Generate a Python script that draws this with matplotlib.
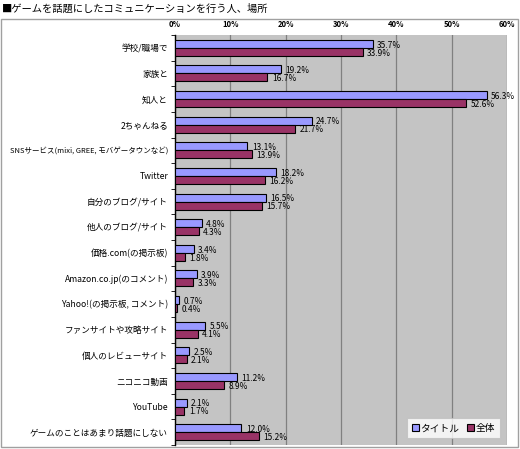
import matplotlib
matplotlib.use("Agg")
import matplotlib.pyplot as plt
import numpy as np
from matplotlib.patches import Rectangle

plt.rcParams['font.family'] = ['Noto Sans CJK JP', 'DejaVu Sans']

categories = [
    "学校/職場で", "家族と", "知人と", "2ちゃんねる",
    "SNSサービス(mixi, GREE, モバゲータウンなど)", "Twitter",
    "自分のブログ/サイト", "他人のブログ/サイト", "価格.com(の掲示板)",
    "Amazon.co.jp(のコメント)", "Yahoo!(の掲示板, コメント)",
    "ファンサイトや攻略サイト", "個人のレビューサイト", "ニコニコ動画",
    "YouTube", "ゲームのことはあまり話題にしない",
]
title_vals = [35.7, 19.2, 56.3, 24.7, 13.1, 18.2, 16.5, 4.8, 3.4, 3.9, 0.7, 5.5, 2.5, 11.2, 2.1, 12.0]
all_vals = [33.9, 16.7, 52.6, 21.7, 13.9, 16.2, 15.7, 4.3, 1.8, 3.3, 0.4, 4.1, 2.1, 8.9, 1.7, 15.2]
series_names = ["タイトル", "全体"]
xticks = [0, 10, 20, 30, 40, 50, 60]

W, H = 520, 449
fig = plt.figure(figsize=(W / 100, H / 100), dpi=100)
fig.patch.set_facecolor('white')

# outer frame
fig.add_artist(Rectangle((1 / W, 2 / H), 517 / W, (447 - 19) / H, transform=fig.transFigure,
                         fill=False, edgecolor='#a0a0a0', linewidth=1))
fig.text(2 / W, 1 - 9 / H, "■ゲームを話題にしたコミュニケーションを行う人、場所",
         fontsize=7.4, va='center', ha='left')

ax = fig.add_axes([175 / W, 1 - 445 / H, (507 - 175) / W, (445 - 35) / H])
ax.set_facecolor('#c4c4c4')
n = len(categories)
y = np.arange(n)
bh = 0.31
ax.barh(y - bh / 2, title_vals, height=bh, color='#9999ff', edgecolor='black', linewidth=0.8, zorder=3)
ax.barh(y + bh / 2, all_vals, height=bh, color='#993366', edgecolor='black', linewidth=0.8, zorder=3)
for i in range(n):
    ax.text(title_vals[i] + 0.8, y[i] - bh / 2 + 0.05, f"{title_vals[i]:.1f}%", fontsize=6,
            va='center', ha='left', zorder=4)
    ax.text(all_vals[i] + 0.8, y[i] + bh / 2 + 0.05, f"{all_vals[i]:.1f}%", fontsize=6,
            va='center', ha='left', zorder=4)

ax.set_xlim(0, 60)
ax.set_ylim(n - 0.5, -0.5)
ax.set_xticks(xticks)
ax.set_xticklabels([f"{t}%" for t in xticks], fontsize=5.5, fontweight='bold')
ax.xaxis.tick_top()
ax.tick_params(axis='x', length=0, pad=4)
ax.set_yticks(y)
ax.set_yticklabels(categories, fontsize=6.2)
for lab in ax.get_yticklabels():
    if lab.get_text().startswith("SNS"):
        lab.set_fontsize(5.4)
ax.tick_params(axis='y', length=0, pad=5)
ax.set_yticks(np.arange(n + 1) - 0.5, minor=True)
ax.tick_params(axis='y', which='minor', length=3, direction='out')
ax.grid(axis='x', color='#808080', linewidth=0.9, zorder=1)
for s in ['top', 'right', 'bottom']:
    ax.spines[s].set_visible(False)
ax.spines['left'].set_color('black')
ax.spines['left'].set_linewidth(1)

leg = ax.legend(series_names, loc='lower right', bbox_to_anchor=(0.995, 0.005), ncol=2, fontsize=7,
                frameon=True, fancybox=False, edgecolor='#c0c0c0', handlelength=0.7,
                handleheight=0.7, handletextpad=0.2, columnspacing=0.8, borderpad=0.5)
leg.get_frame().set_linewidth(0.8)

fig.savefig("out.png", dpi=100)
